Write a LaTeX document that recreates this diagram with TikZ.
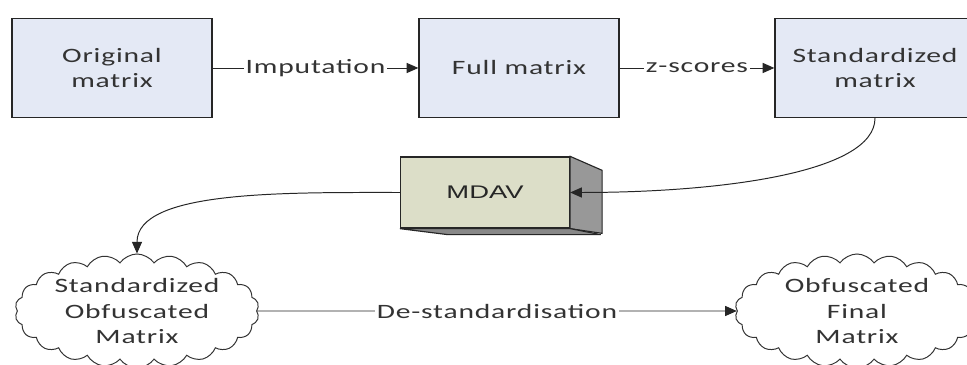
\documentclass[tikz,border=0pt]{standalone}
\usepackage{fontspec}
\newfontfamily\boxfont[FakeStretch=1.45, LetterSpace=4]{Carlito}
\newfontfamily\mdavfont[FakeStretch=1.5]{Liberation Sans}
\usetikzlibrary{arrows.meta, shapes.symbols}

\definecolor{boxblue}{RGB}{228,233,245}
\definecolor{mdavgreen}{RGB}{220,222,200}
\definecolor{mdavside}{RGB}{152,152,152}
\definecolor{mdavbottom}{RGB}{136,136,136}

\begin{document}
\begin{tikzpicture}[x=0.025cm, y=-0.025cm,
    txt/.style={font=\boxfont\fontsize{14.5}{18}\selectfont, text=black!80},
    matbox/.style={txt, draw=black!85, line width=0.9pt, fill=boxblue,
        minimum width=5cm, minimum height=2.475cm, align=center},
    puff/.style={cloud, cloud puffs=22, cloud puff arc=110, draw=black!80,
        line width=0.7pt, fill=white, minimum width=6.1cm, minimum height=2.85cm,
        inner sep=0pt},
    flow/.style={line width=0.7pt, draw=black!85, -{Triangle[length=2.9mm, width=2.5mm]}},
    lbl/.style={txt, fill=white, inner sep=1.5pt}]

    % page
    \fill[white] (0,0) rectangle (967,365);
    \clip (0,0) rectangle (967,365);

    % Draw the three matrix boxes
    \node[matbox] (orig) at (112,68) {Original\\matrix};
    \node[matbox] (full) at (519,68) {Full matrix};
    \node[matbox] (stdm) at (875,68) {Standardized\\matrix};

    % MDAV block with its side and bottom faces
    \node[draw=black!85, line width=0.9pt, fill=mdavgreen, minimum width=4.225cm,
        minimum height=1.775cm, font=\mdavfont\fontsize{13}{15}\selectfont,
        text=black!85] (mdav) at (485,192.5) {MDAV};
    \draw[black!85, line width=0.8pt, fill=mdavside] (mdav.north east) -- ++(32,14)
        -- ++(0,63) -- (mdav.south east) -- cycle;
    \draw[black!85, line width=0.8pt, fill=mdavbottom] (mdav.south west) -- ++(48,6)
        -- ++(153,0) -- (mdav.south east) -- cycle;

    % Draw the two clouds, text set on top
    \node[puff, label={[txt, align=center]center:Standardized\\Obfuscated\\Matrix}]
        (sobf) at (137,311) {};
    \node[puff, label={[txt, align=center]center:Obfuscated\\Final\\Matrix}]
        (fobf) at (857,311) {};

    % Draw the connectors
    \draw[flow] (orig) -- node[lbl] {Imputation} (full);
    \draw[flow] (full) -- node[lbl] {z-scores} (stdm);
    \draw[flow] (stdm.south) to[out=-90, in=0, out looseness=0.45, in looseness=1.2] (mdav.east);
    \draw[flow] (mdav.west) to[out=180, in=90, out looseness=1.1, in looseness=0.6] (sobf.north);
    \draw[flow] (sobf) -- node[lbl] {De-standardisation} (fobf);

\end{tikzpicture}
\end{document}
